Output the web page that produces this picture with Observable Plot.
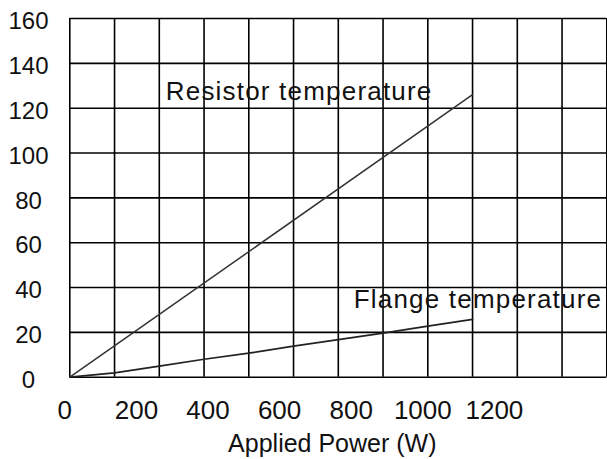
<!DOCTYPE html>
<html><head><meta charset="utf-8">
<script src="https://cdn.jsdelivr.net/npm/d3@7"></script>
<script src="https://cdn.jsdelivr.net/npm/@observablehq/plot@0.6"></script>
<style>
body{margin:0;background:#fff}
svg{display:block}
.annot text{letter-spacing:1.2px}
</style>
</head><body><div id="chart"></div>
<script>
// Grid lines (x: every 125 W, y: every 20)
const xGridValues = [0,125,250,375,500,625,750,875,1000,1125,1250,1375,1500];
const yTickValues = [0,20,40,60,80,100,120,140,160];
const xTickLabels = [0,200,400,600,800,1000,1200];

// Series
const resistorPower = [0, 1125];
const resistorTemp = [0, 126];
const flangePower = [0,125,250,375,500,625,750,875,1000,1125];
const flangeTemp = [0,1.9,4.9,8.0,10.7,13.9,16.8,19.7,22.8,25.8];

// Series labels
const seriesLabels = ["Resistor temperature", "Flange temperature"];
const labelPower = [268, 793];
const labelTemp = [123.7, 31];

const axisTitle = "Applied Power (W)";

const resistor = resistorPower.map((p, i) => ({power: p, temp: resistorTemp[i]}));
const flange = flangePower.map((p, i) => ({power: p, temp: flangeTemp[i]}));
const labels = seriesLabels.map((t, i) => ({text: t, power: labelPower[i], temp: labelTemp[i]}));

const chart = Plot.plot({
  width: 607,
  height: 459,
  marginLeft: 69.3,
  marginRight: 0.7,
  marginTop: 18,
  marginBottom: 82.3,
  style: {fontFamily: "'Liberation Sans', Arial, sans-serif", background: "#fff", color: "#000"},
  x: {domain: [0, 1500]},
  y: {domain: [0, 160]},
  marks: [
    Plot.ruleX(xGridValues, {x: d => d, stroke: "#000", strokeWidth: 1.6}),
    Plot.ruleY(yTickValues, {y: d => d, stroke: "#000", strokeWidth: 1.6}),
    Plot.line(resistor, {x: "power", y: "temp", stroke: "#333", strokeWidth: 1.5}),
    Plot.line(flange, {x: "power", y: "temp", stroke: "#222", strokeWidth: 1.7}),
    Plot.axisY(yTickValues, {tickSize: 0, tickPadding: 0, textAnchor: "middle", dx: -41.3, dy: 3, fontSize: 24, label: null, fill: "#111", tickFormat: d => String(d)}),
    Plot.axisX(xTickLabels, {tickSize: 0, tickPadding: 23, dx: -5, fontSize: 26, label: null, fill: "#111", tickFormat: d => String(d)}),
    Plot.text([axisTitle], {frameAnchor: "bottom", dx: -6, dy: 75, lineAnchor: "bottom", fontSize: 25, fill: "#111"}),
    Plot.text(labels, {x: "power", y: "temp", text: "text", textAnchor: "start", lineAnchor: "bottom", fontSize: 26, fill: "#111", className: "annot"})
  ]
});
document.getElementById("chart").appendChild(chart);
</script>
</body></html>
